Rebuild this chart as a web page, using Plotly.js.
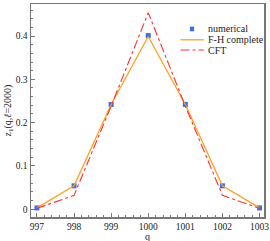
<!DOCTYPE html>
<html><head><meta charset="utf-8">
<script src="https://cdn.plot.ly/plotly-3.0.1.min.js"></script>
<style>body{margin:0;padding:0;background:#fff}#chart{width:270px;height:241px}</style>
</head><body><div id="chart"></div>
<script>
const q = [997, 998, 999, 1000, 1001, 1002, 1003];
const numerical = [0.003, 0.054, 0.242, 0.401, 0.242, 0.054, 0.003];
const fhComplete = [0.003, 0.054, 0.242, 0.399, 0.242, 0.054, 0.003];
const cft = [0.002, 0.032, 0.238, 0.454, 0.238, 0.032, 0.002];
const xTicks = [997, 998, 999, 1000, 1001, 1002, 1003];
const yTicks = [0, 0.1, 0.2, 0.3, 0.4];
const yTickText = ['0', '0.1', '0.2', '0.3', '0.4'];
const seriesNames = ['numerical', 'F-H complete', 'CFT'];
const seriesColors = ['#3a6cf0', '#ffa020', '#ff3030'];

const fam = 'Liberation Serif, Times New Roman, serif';
const font = {family: fam, size: 9.5, color: '#222'};
const traces = [
  {x: q, y: numerical, name: seriesNames[0], mode: 'markers', type: 'scatter',
   marker: {symbol: 'square', size: 5, color: seriesColors[0]}},
  {x: q, y: fhComplete, name: seriesNames[1], mode: 'lines', type: 'scatter',
   line: {color: seriesColors[1], width: 1.3}},
  {x: q, y: cft, name: seriesNames[2], mode: 'lines', type: 'scatter',
   line: {color: seriesColors[2], width: 1.1, dash: 'dashdot'}}
];

// manual compact legend (paper coords)
const legY = [0.883, 0.832, 0.784];
const shapes = [
  {type: 'rect', xref: 'paper', yref: 'paper', x0: 0.682, x1: 0.700, y0: legY[0] - 0.011, y1: legY[0] + 0.011,
   fillcolor: seriesColors[0], line: {width: 0}},
  {type: 'line', xref: 'paper', yref: 'paper', x0: 0.642, x1: 0.742, y0: legY[1], y1: legY[1],
   line: {color: seriesColors[1], width: 1.3}},
  {type: 'line', xref: 'paper', yref: 'paper', x0: 0.642, x1: 0.742, y0: legY[2], y1: legY[2],
   line: {color: seriesColors[2], width: 1.1, dash: 'dashdot'}}
];
const annotations = seriesNames.map((n, i) => ({
  text: n, xref: 'paper', yref: 'paper', x: 0.752, y: legY[i], xanchor: 'left', yanchor: 'middle',
  showarrow: false, font: {family: fam, size: 10, color: '#222'}
}));
annotations.push({text: 'q', xref: 'paper', yref: 'paper', x: 0.5, y: -0.093,
  xanchor: 'center', yanchor: 'middle', showarrow: false,
  font: {family: fam, size: 10, color: '#222'}});

const axisCommon = {showgrid: false, zeroline: false, showline: true, mirror: true,
  linecolor: '#777', linewidth: 1.5, ticks: 'inside', ticklen: 4, tickcolor: '#777',
  tickfont: font};
const layout = {
  width: 270, height: 241, margin: {l: 31, r: 6, t: 4, b: 24},
  paper_bgcolor: '#fff', plot_bgcolor: '#fff', font: font,
  showlegend: false, shapes: shapes, annotations: annotations,
  xaxis: Object.assign({}, axisCommon, {range: [996.84, 1003.12], tickvals: xTicks,
    ticktext: xTicks.map(String),
    minor: {dtick: 0.2, ticks: 'inside', ticklen: 2, tickcolor: '#777'}}),
  yaxis: Object.assign({}, axisCommon, {range: [-0.018, 0.474], tickvals: yTicks,
    ticktext: yTickText,
    minor: {dtick: 0.02, ticks: 'inside', ticklen: 2, tickcolor: '#777'},
    title: {text: 'z<sub>1</sub>(q,<i>ℓ</i>=2000)', font: {family: fam, size: 10, color: '#222'}, standoff: 2}})
};
Plotly.newPlot('chart', traces, layout, {displayModeBar: false, staticPlot: true});
</script></body></html>
